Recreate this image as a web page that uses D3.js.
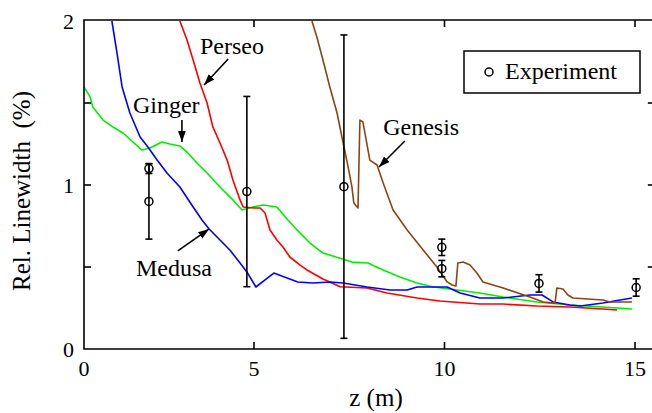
<!DOCTYPE html>
<html><head><meta charset="utf-8">
<script src="https://cdn.jsdelivr.net/npm/d3@7"></script>
<style>
html,body{margin:0;padding:0;background:#fff;}
svg{display:block;}
text{font-family:"Liberation Serif","DejaVu Serif",serif;}
</style></head>
<body><svg id="c" width="652" height="413"></svg>
<script>
// ---- data (z in m, relative linewidth in %) ----
const medusa = [[0.82,2.0],[0.97,1.805],[1.12,1.598],[1.35,1.439],[1.65,1.293],[1.88,1.232],[2.15,1.152],[2.44,1.073],[2.82,0.988],[3.21,0.866],[3.47,0.787],[3.68,0.732],[4.00,0.665],[4.29,0.604],[4.59,0.524],[4.79,0.470],[5.05,0.378],[5.29,0.421],[5.52,0.463],[5.87,0.433],[6.15,0.409],[6.55,0.402],[6.99,0.409],[7.34,0.402],[7.97,0.378],[8.57,0.360],[9.02,0.360],[9.28,0.378],[10.07,0.378],[10.41,0.341],[10.93,0.311],[11.54,0.311],[12.24,0.329],[12.56,0.329],[12.85,0.287],[13.29,0.268],[13.56,0.262],[14.16,0.280],[14.61,0.299],[14.92,0.311]];
const perseo = [[2.82,2.0],[3.03,1.884],[3.21,1.762],[3.41,1.622],[3.62,1.500],[3.79,1.354],[4.00,1.256],[4.21,1.152],[4.38,1.030],[4.59,0.909],[4.68,0.866],[5.00,0.860],[5.16,0.860],[5.29,0.829],[5.42,0.726],[5.60,0.665],[5.76,0.622],[5.94,0.561],[6.21,0.512],[6.39,0.482],[6.81,0.427],[6.99,0.409],[7.26,0.380],[7.97,0.372],[8.49,0.341],[9.28,0.311],[9.88,0.293],[10.93,0.274],[11.54,0.274],[12.43,0.262],[13.29,0.256],[14.16,0.244],[14.53,0.238]];
const ginger = [[0.0,1.598],[0.18,1.537],[0.26,1.476],[0.56,1.396],[0.85,1.354],[1.15,1.317],[1.44,1.262],[1.71,1.213],[1.94,1.226],[2.29,1.262],[2.53,1.250],[2.82,1.238],[3.03,1.201],[3.32,1.134],[3.62,1.073],[4.00,0.988],[4.38,0.909],[4.65,0.848],[4.97,0.866],[5.24,0.878],[5.60,0.866],[5.89,0.787],[6.13,0.726],[6.47,0.646],[6.81,0.585],[7.07,0.567],[7.57,0.530],[7.99,0.524],[8.39,0.482],[8.83,0.439],[9.28,0.402],[9.70,0.378],[10.14,0.366],[10.93,0.341],[11.54,0.317],[12.43,0.287],[13.29,0.268],[14.16,0.256],[14.92,0.244]];
const genesis = [[6.52,2.0],[6.65,1.902],[6.81,1.762],[6.99,1.598],[7.18,1.439],[7.34,1.256],[7.47,1.110],[7.57,0.988],[7.62,0.890],[7.73,0.860],[7.78,1.396],[7.86,1.384],[8.04,1.152],[8.23,1.122],[8.39,1.012],[8.65,0.848],[9.02,0.726],[9.44,0.604],[9.80,0.500],[10.07,0.409],[10.20,0.390],[10.30,0.384],[10.35,0.524],[10.49,0.530],[10.67,0.512],[10.85,0.463],[11.01,0.409],[11.54,0.372],[12.24,0.317],[12.59,0.287],[12.90,0.280],[12.95,0.372],[13.11,0.366],[13.24,0.329],[13.37,0.311],[14.16,0.299],[14.34,0.287],[14.92,0.287]];
const expZ   = [1.91, 1.91, 4.79, 7.36, 9.93, 9.93, 12.48, 15.03];
const expV   = [1.10, 0.90, 0.96, 0.99, 0.62, 0.49, 0.40, 0.375];
const expErr = [0.03, 0.23, 0.58, 0.925, 0.05, 0.05, 0.053, 0.053];
const xTicks = [0, 5, 10, 15];
const xTickLabels = ["0", "5", "10", "15"];
const yTicks = [0, 0.5, 1, 1.5, 2];
const yTickLabels = {0: "0", 1: "1", 2: "2"};
const seriesNames = ["Medusa", "Perseo", "Ginger", "Genesis"];
const seriesColors = ["#0000ff", "#ff0000", "#00ee00", "#8b4513"];

// annotation layout (data coordinates)
const notes = [
  {t:"Perseo",  tx:3.41, ty:1.80,  ax1:4.24, ay1:1.768, ax2:3.53, ay2:1.61},
  {t:"Ginger",  tx:1.44, ty:1.439, ax1:2.88, ay1:1.396, ax2:2.88, ay2:1.262},
  {t:"Medusa",  tx:1.53, ty:0.445, ax1:2.76, ay1:0.598, ax2:3.68, ay2:0.732},
  {t:"Genesis", tx:8.39, ty:1.305, ax1:8.96, ay1:1.268, ax2:8.28, ay2:1.11}
];

const FONT = "'Liberation Serif', 'DejaVu Serif', serif";
const svg = d3.select("#c").attr("font-family", FONT);
const x = d3.scaleLinear().domain([0, 5, 15]).range([84, 254, 635]);
const y = d3.scaleLinear().domain([0, 2]).range([349, 21]);
const xR = x(15.52), xL = x(0), yT = y(2) - 1, yB = y(0);

svg.append("defs").append("clipPath").attr("id","clip")
  .append("rect").attr("x", xL).attr("y", yT).attr("width", xR - xL).attr("height", yB - yT);
const marker = svg.select("defs").append("marker").attr("id","arr")
  .attr("viewBox","0 0 10 10").attr("refX",10).attr("refY",5)
  .attr("markerWidth",11).attr("markerHeight",11).attr("markerUnits","userSpaceOnUse")
  .attr("orient","auto");
marker.append("path").attr("d","M0,1.5 L10,5 L0,8.5 Z").attr("fill","#000");

// series lines
const line = d3.line().x(d => x(d[0])).y(d => y(d[1]));
const all = [medusa, perseo, ginger, genesis];
const g = svg.append("g").attr("clip-path","url(#clip)");
[2,1,0,3].forEach(i => {
  g.append("path").datum(all[i]).attr("d", line).attr("fill","none")
    .attr("stroke", seriesColors[i]).attr("stroke-width", 1.6).attr("stroke-linejoin","round");
});

// experiment error bars
const exp = expZ.map((z,i) => ({z, v: expV[i], e: expErr[i]}));
const eg = svg.append("g");
exp.forEach(d => {
  const cx = x(d.z), y1 = y(d.v + d.e), y2 = y(d.v - d.e);
  eg.append("line").attr("x1",cx).attr("x2",cx).attr("y1",y1).attr("y2",y2).attr("stroke","#000").attr("stroke-width",1.6);
  [y1,y2].forEach(yy => eg.append("line").attr("x1",cx-3.5).attr("x2",cx+3.5).attr("y1",yy).attr("y2",yy).attr("stroke","#000").attr("stroke-width",1.6));
  eg.append("circle").attr("cx",cx).attr("cy",y(d.v)).attr("r",4).attr("fill","none").attr("stroke","#000").attr("stroke-width",1.5);
});

// frame
const fr = svg.append("g").attr("stroke","#000").attr("stroke-width",1.6).attr("fill","none");
fr.append("path").attr("d", `M${xL},${yT}H${xR}V${yB}H${xL}Z`);
xTicks.filter(t => t > 0).forEach(t => {
  fr.append("line").attr("x1",x(t)).attr("x2",x(t)).attr("y1",yB).attr("y2",yB-7);
  fr.append("line").attr("x1",x(t)).attr("x2",x(t)).attr("y1",yT).attr("y2",yT+7);
});
yTicks.filter(t => t > 0 && t < 2).forEach(t => {
  fr.append("line").attr("x1",xL).attr("x2",xL+7).attr("y1",y(t)).attr("y2",y(t));
  fr.append("line").attr("x1",xR).attr("x2",xR-7).attr("y1",y(t)).attr("y2",y(t));
});

// tick labels
const tl = svg.append("g").attr("font-size",22).attr("fill","#000");
xTicks.forEach((t,i) => tl.append("text").attr("font-family", FONT).attr("x", x(t)).attr("y", 376).attr("text-anchor","middle").text(xTickLabels[i]));
yTicks.filter(t => yTickLabels[t] !== undefined).forEach(t =>
  tl.append("text").attr("font-family", FONT).attr("x", 74).attr("y", y(t) + 7.5).attr("text-anchor","end").text(yTickLabels[t]));

// axis titles
svg.append("text").attr("font-family", FONT).attr("x", 376).attr("y", 406).attr("text-anchor","middle").attr("font-size",25).text("z (m)");
svg.append("text").attr("font-family", FONT).attr("transform","translate(30,191) rotate(-90)").attr("text-anchor","middle")
  .attr("font-size",25).attr("xml:space","preserve").style("white-space","pre").text("Rel. Linewidth  (%)");

// annotations
notes.forEach(n => {
  svg.append("text").attr("font-family", FONT).attr("x", x(n.tx)).attr("y", y(n.ty)).attr("font-size",24).text(n.t);
  svg.append("line").attr("x1",x(n.ax1)).attr("y1",y(n.ay1)).attr("x2",x(n.ax2)).attr("y2",y(n.ay2))
    .attr("stroke","#000").attr("stroke-width",1.6).attr("marker-end","url(#arr)");
});

// legend
const lg = svg.append("g");
lg.append("rect").attr("x",464).attr("y",51).attr("width",176).attr("height",42).attr("fill","#fff").attr("stroke","#000").attr("stroke-width",1.5);
lg.append("circle").attr("cx",489).attr("cy",72).attr("r",4).attr("fill","none").attr("stroke","#000").attr("stroke-width",1.5);
lg.append("text").attr("font-family", FONT).attr("x",505).attr("y",79).attr("font-size",24).text("Experiment");
</script></body></html>
